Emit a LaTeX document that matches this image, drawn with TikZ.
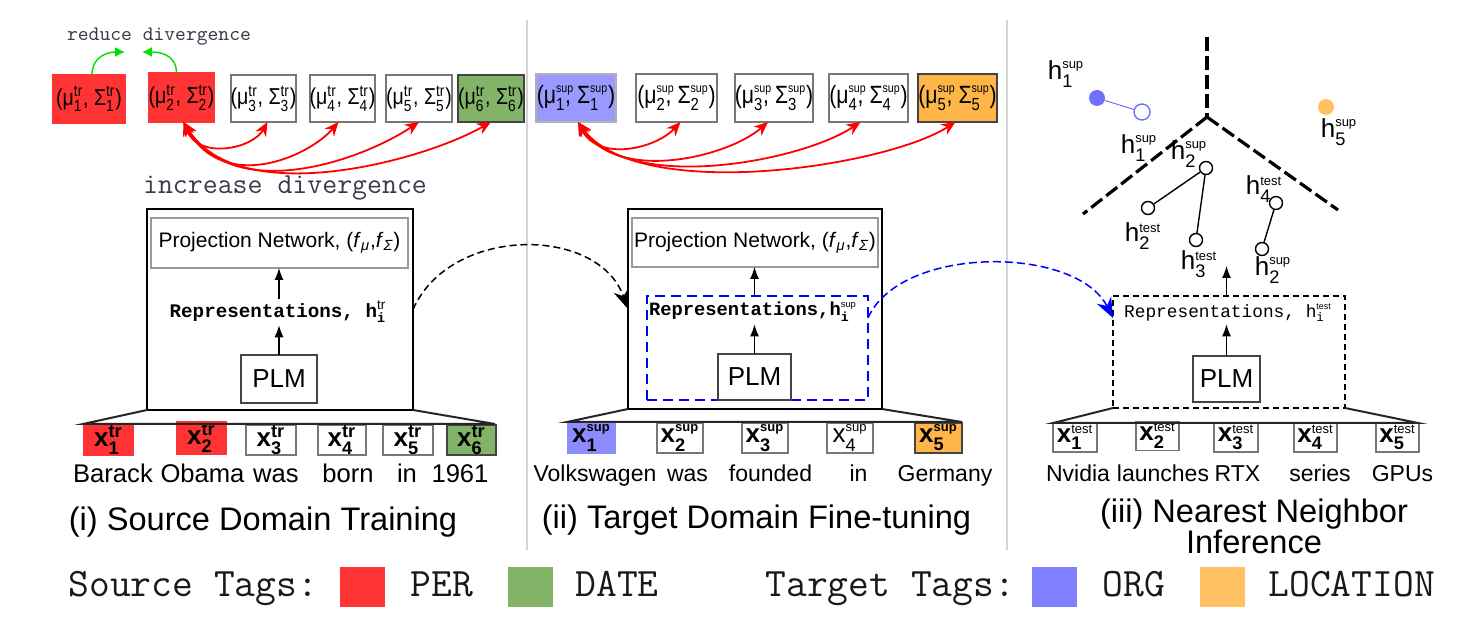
\documentclass[tikz,border=0pt]{standalone}
\usepackage{fontspec}
\usepackage{amsmath}
\usepackage{graphicx}
\setmainfont{Liberation Sans}
\setsansfont{Liberation Sans}
\newfontfamily\repfont{Liberation Mono}
\usetikzlibrary{arrows.meta}
\definecolor{cred}{HTML}{FF3333}
\definecolor{cgreen}{HTML}{82B366}
\definecolor{cblue}{HTML}{8C8CFF}
\definecolor{cbluetop}{HTML}{9999FF}
\definecolor{corange}{HTML}{FFB547}
\definecolor{clegor}{HTML}{FFC164}
\definecolor{clegbl}{HTML}{8080FF}
\definecolor{cgarr}{HTML}{00E000}
\definecolor{ctxt}{HTML}{3A3A4A}
\definecolor{cbord}{HTML}{777777}
\definecolor{csep}{HTML}{D4D4D4}
\definecolor{cdot}{HTML}{7070FF}
\definecolor{cdkb}{HTML}{444444}
\newcommand\sstr[2]{$^{\text{#1}}_{\text{#2}}$}
\newcommand\sssm[2]{$^{\scriptscriptstyle\text{#1}}_{\text{#2}}$}
\newcommand\ssrl[2]{$^{\rlap{$\scriptscriptstyle\text{#1}$}}_{\text{#2}}$}
\newcommand\fsz[1]{\fontsize{#1}{#1}\selectfont}
\begin{document}
\begin{tikzpicture}[x=0.5pt,y=-0.5pt,
  box/.style 2 args={minimum width={#1*0.5pt}, minimum height={#2*0.5pt}, inner sep=0pt, outer sep=0pt},
  topbox/.style={draw=cbord, line width=1pt, fill=white, font=\fsz{11.5}},
  midbox/.style={draw=cbord, line width=1pt, fill=white, font=\fsz{12.5}},
  tok/.style={draw=cbord, line width=0.75pt, fill=white, font=\fsz{13}},
  word/.style={anchor=base, font=\fsz{12.8}, inner sep=0pt},
  words/.style={anchor=base, font=\fsz{11.5}, inner sep=0pt},
  title/.style={anchor=base, font=\fsz{16.3}, inner sep=0pt},
  outer/.style={draw=black, line width=1pt},
  projbox/.style={draw=black!40, line width=1.3pt, font=\fsz{10.5}},
  plmbox/.style={draw=cdkb, line width=0.75pt, font=\fsz{13}},
  reps/.style={inner sep=1pt},
  blk/.style={-{Latex[length=6pt,width=4.5pt]}, line width=0.6pt},
  redarr/.style={draw=red, line width=0.9pt, {Stealth[length=7pt,width=6pt]}-{Stealth[length=7pt,width=6pt]}},
  garr/.style={draw=cgarr, line width=0.7pt, -{Latex[length=5pt,width=5pt]}},
  trap/.style={line width=1pt, draw=black!85},
  sepline/.style={draw=csep, line width=0.8pt},
  ptc/.style={circle, draw=black, line width=0.7pt, fill=white, minimum size=6.5pt, inner sep=0pt},
  hlab/.style={font=\fsz{13}, inner sep=0pt},
  branch/.style={line width=1.6pt, dash pattern=on 7pt off 2.5pt},
  legtxt/.style={anchor=base west, font=\ttfamily\fsz{20.2}, text=black!90, inner sep=0pt},
  legsq/.style={box={45}{40}}
]
\useasboundingbox (0,0) rectangle (1480,625);

% separators
\draw[sepline] (527,20) -- (527,550);
\draw[sepline] (1007,20) -- (1007,550);

% ---------- top-left boxes
\node[topbox, box={72}{48}, fill=cred, draw=cred] (b1) at (89,99) {\scalebox{0.85}[1]{(μ\sstr{tr}{1}, Σ\sstr{tr}{1})}};
\node[topbox, box={65}{49}, fill=cred, draw=cred] (b2) at (181.5,97.5) {\scalebox{0.85}[1]{(μ\sstr{tr}{2}, Σ\sstr{tr}{2})}};
\node[topbox, box={65}{47}] (b3) at (263.5,98.5) {\scalebox{0.85}[1]{(μ\sstr{tr}{3}, Σ\sstr{tr}{3})}};
\node[topbox, box={63}{47}] (b4) at (342.5,98.5) {\scalebox{0.85}[1]{(μ\sstr{tr}{4}, Σ\sstr{tr}{4})}};
\node[topbox, box={64}{47}] (b5) at (419,98.5) {\scalebox{0.85}[1]{(μ\sstr{tr}{5}, Σ\sstr{tr}{5})}};
\node[topbox, box={64}{47}, fill=cgreen, draw=cdkb] (b6) at (491,98.5) {\scalebox{0.85}[1]{(μ\sstr{tr}{6}, Σ\sstr{tr}{6})}};

\node[font=\ttfamily\fsz{10.3}, text=ctxt, inner sep=1pt] (reduce) at (159,37) {reduce divergence};
\coordinate (gl) at (125,52);
\coordinate (gr) at (142,52);
\draw[garr] ([xshift=1.5pt]b1.north) .. controls +(0,-20) and +(-15,0) .. (gl);
\draw[garr] ([xshift=-2.5pt]b2.north) .. controls +(0,-20) and +(15,0) .. (gr);

\node[font=\ttfamily\fsz{14.5}, text=ctxt, inner sep=1pt] (increase) at (285,188) {increase divergence};

\draw[redarr] ([xshift=1pt]b2.south) .. controls +(15,38) and +(-15,27) .. ([xshift=2pt]b3.south);
\draw[redarr] ([xshift=1pt]b2.south) .. controls +(40,72) and +(-30,35) .. ([xshift=-2pt]b4.south);
\draw[redarr] ([xshift=1pt]b2.south) .. controls +(50,82) and +(-60,40) .. (b5.south);
\draw[redarr] ([xshift=1pt]b2.south) .. controls +(55,88) and +(-70,40) .. (b6.south);

% ---------- top-middle boxes
\node[midbox, box={80}{48}, fill=cbluetop, draw=black!30] (m1) at (576,98) {\scalebox{0.85}[1]{(μ\ssrl{sup}{1}, Σ\sssm{sup}{1})}};
\node[midbox, box={81}{48}] (m2) at (676.5,98) {\scalebox{0.85}[1]{(μ\ssrl{sup}{2}, Σ\sssm{sup}{2})}};
\node[midbox, box={78}{48}] (m3) at (774,98) {\scalebox{0.85}[1]{(μ\ssrl{sup}{3}, Σ\sssm{sup}{3})}};
\node[midbox, box={77}{48}] (m4) at (868.5,98) {\scalebox{0.85}[1]{(μ\ssrl{sup}{4}, Σ\sssm{sup}{4})}};
\node[midbox, box={77}{48}, fill=corange, draw=cdkb] (m5) at (957.5,98) {\scalebox{0.85}[1]{(μ\ssrl{sup}{5}, Σ\sssm{sup}{5})}};

\draw[redarr] ([xshift=1pt]m1.south) .. controls +(20,40) and +(-25,27) .. ([xshift=2pt]m2.south);
\draw[redarr] ([xshift=1pt]m1.south) .. controls +(40,62) and +(-40,35) .. ([xshift=-3pt]m3.south);
\draw[redarr] ([xshift=1pt]m1.south) .. controls +(50,72) and +(-60,40) .. ([xshift=-4pt]m4.south);
\draw[redarr] ([xshift=1pt]m1.south) .. controls +(60,82) and +(-70,45) .. ([xshift=-1pt]m5.south);

% ---------- left panel
\node[outer, box={266}{201}] (outer1) at (280,309.5) {};
\node[projbox, box={257}{50}] (proj1) at (279.5,243) {Projection Network, (\textit{f}$_{\text{\itshape μ}}$,\textit{f}$_{\text{\itshape Σ}}$)};
\node[reps, font=\repfont\bfseries\fsz{9.6}] (reps1) at (278,312) {Representations, h$^{\text{\sffamily\mdseries tr}}_{\text{i}}$};
\node[plmbox, box={76}{48}] (plm1) at (279,379) {PLM};
\draw[blk] (plm1.north) -- (reps1.south -| plm1.north);
\draw[blk] (reps1.north -| plm1.north) -- (proj1.south -| plm1.north);

% tokens left
\node[tok, box={49}{30}, fill=cred, draw=cred] (t1) at (108.5,440) {\textbf{x\sstr{tr}{1}}};
\node[tok, box={49}{32}, fill=cred, draw=cred] (t2) at (201.5,438) {\textbf{x\sstr{tr}{2}}};
\node[tok, box={50}{30}] (t3) at (271,440) {\textbf{x\sstr{tr}{3}}};
\node[tok, box={48}{30}] (t4) at (342,440) {\textbf{x\sstr{tr}{4}}};
\node[tok, box={50}{30}] (t5) at (408,440) {\textbf{x\sstr{tr}{5}}};
\node[tok, box={49}{30}, fill=cgreen, draw=cdkb] (t6) at (471.5,440) {\textbf{x\sstr{tr}{6}}};
\coordinate (tl1) at (83,424);
\coordinate (tr1) at (495,424);
\draw[trap] (outer1.south west) -- (tl1) -- (tr1) -- (outer1.south east);

\node[word] (w1) at (113,483) {Barack};
\node[word] (w2) at (202.5,483) {Obama};
\node[word] (w3) at (276,483) {was};
\node[word] (w4) at (348,483) {born};
\node[word] (w5) at (407,483) {in};
\node[word] (w6) at (460,483) {1961};
\node[title] (ti1) at (263,531) {(i) Source Domain Training};

% ---------- middle panel
\node[outer, box={254}{200}] (outer2) at (755,309) {};
\node[projbox, box={246}{49}] (proj2) at (755,242.5) {Projection Network, (\textit{f}$_{\text{\itshape μ}}$,\textit{f}$_{\text{\itshape Σ}}$)};
\node[draw=blue, line width=1.2pt, dash pattern=on 5pt off 3pt, box={221}{104}] (bluebox) at (757.5,348) {};
\node[reps, font=\repfont\bfseries\fsz{9.4}] (reps2) at (753,312) {Representations,h$^{\scriptscriptstyle\text{\sffamily\mdseries sup}}_{\text{i}}$};
\node[plmbox, box={73}{46}] (plm2) at (754.5,377) {PLM};
\draw[blk] (plm2.north) -- (reps2.south -| plm2.north);
\draw[blk] (bluebox.north -| plm2.north) -- (proj2.south -| plm2.north);

\node[tok, box={47}{30}, fill=cblue, draw=cblue] (s1) at (591.5,438) {\textbf{x\sssm{sup}{1}}};
\node[tok, box={46}{30}] (s2) at (680,438) {\textbf{x\sssm{sup}{2}}};
\node[tok, box={46}{30}] (s3) at (765,438) {\textbf{x\sssm{sup}{3}}};
\node[tok, box={46}{30}] (s4) at (850,438) {x\sssm{sup}{4}};
\node[tok, box={47}{30}, fill=corange, draw=cdkb] (s5) at (938.5,438) {\textbf{x\sssm{sup}{5}}};
\coordinate (tl2) at (567,422);
\coordinate (tr2) at (962,422);
\draw[trap] (outer2.south west) -- (tl2) -- (tr2) -- (outer2.south east);

\node[words] (v1) at (595,482) {Volkswagen};
\node[words] (v2) at (687.5,482) {was};
\node[words] (v3) at (770.5,482) {founded};
\node[words] (v4) at (858.5,482) {in};
\node[words] (v5) at (945,482) {Germany};
\node[title] (ti2) at (756.5,529) {(ii) Target Domain Fine-tuning};

% ---------- right panel
\node[draw=black, line width=0.75pt, dash pattern=on 3pt off 2pt, box={232}{112}] (dash3) at (1229,352) {};
\node[reps, font=\repfont\fsz{8.9}] (reps3) at (1228,313) {Representations, h$^{\scriptscriptstyle\text{\sffamily test}}_{\text{i}}$};
\node[plmbox, box={67}{46}] (plm3) at (1226.5,379) {PLM};
\draw[blk] (plm3.north) -- (reps3.south -| plm3.north);
\coordinate (emb) at (1226.5,266);
\draw[blk] (dash3.north -| plm3.north) -- (emb);

\node[tok, box={44}{29}] (r1) at (1075,437.5) {\textbf{x\sssm{\mdseries test}{1}}};
\node[tok, box={43}{29}] (r2) at (1157.5,436) {\textbf{x\sssm{\mdseries test}{2}}};
\node[tok, box={44}{29}] (r3) at (1236,437.5) {\textbf{x\sssm{\mdseries test}{3}}};
\node[tok, box={43}{29}] (r4) at (1315.5,437.5) {\textbf{x\sssm{\mdseries test}{4}}};
\node[tok, box={43}{29}] (r5) at (1397.5,437.5) {\textbf{x\sssm{\mdseries test}{5}}};
\coordinate (tl3) at (1053,423);
\coordinate (tr3) at (1418,423);
\draw[trap] (dash3.south west) -- (tl3) -- (tr3) -- (dash3.south east);

\node[words] (n1) at (1078,482) {Nvidia};
\node[words] (n2) at (1163,482) {launches};
\node[words] (n3) at (1237.5,482) {RTX};
\node[words] (n4) at (1320,482) {series};
\node[words] (n5) at (1402.5,482) {GPUs};
\node[title] (ti3a) at (1254,523) {(iii) Nearest Neighbor};
\node[title] (ti3b) at (1254,554) {Inference};

% embedding space
\coordinate (apex) at (1207,117);
\coordinate (vtop) at (1207,37);
\coordinate (bl) at (1083,214);
\coordinate (br) at (1338,210);
\draw[branch] (vtop) -- (apex);
\draw[branch] (apex) -- (bl);
\draw[branch] (apex) -- (br);

\node[circle, fill=cdot, minimum size=8pt, inner sep=0pt] (bd) at (1097,98) {};
\node[circle, draw=cdot, fill=white, line width=0.7pt, minimum size=8pt, inner sep=0pt] (bc) at (1142,112) {};
\draw[cdot, line width=0.5pt] (bd) -- (bc);
\node[circle, fill=clegor, minimum size=8pt, inner sep=0pt] (od) at (1326,107) {};

\node[ptc] (hs2) at (1206,168) {};
\node[ptc] (ht2) at (1148,208) {};
\node[ptc] (ht3) at (1196,240) {};
\node[ptc] (ht4) at (1276,203) {};
\node[ptc] (hs2b) at (1262,249) {};
\draw[line width=0.7pt] (hs2) -- (ht2);
\draw[line width=0.7pt] (hs2) -- (ht3);
\draw[line width=0.7pt] (ht4) -- (hs2b);

\node[hlab] (lh1a) at (1066,74) {h\sssm{sup}{1}};
\node[hlab] (lh1b) at (1139,148) {h\sssm{sup}{1}};
\node[hlab] (lh2a) at (1189,154) {h\sssm{sup}{2}};
\node[hlab] (lh2t) at (1143,236) {h\sssm{test}{2}};
\node[hlab] (lh3t) at (1199,264) {h\sssm{test}{3}};
\node[hlab] (lh4t) at (1264,189) {h\sssm{test}{4}};
\node[hlab] (lh2b) at (1273,270) {h\sssm{sup}{2}};
\node[hlab] (lh5) at (1339,132) {h\sssm{sup}{5}};

% ---------- connectors between panels
\draw[line width=0.75pt, dash pattern=on 3.5pt off 2pt, -{Stealth[length=10pt,width=8pt]}]
  (outer1.east) .. controls +(37,-84) and +(-30,-84) .. (outer2.west);
\draw[blue, line width=0.75pt, dash pattern=on 4pt off 2pt, -{Stealth[length=10pt,width=8pt]}]
  ([yshift=15pt]bluebox.east) .. controls +(32,-73) and +(-37,-73) .. ([yshift=17pt]dash3.west);

% ---------- legend
\node[legtxt] (lsrc) at (68,597) {Source Tags:};
\node[legsq, fill=cred] (sqper) at (362.5,587) {};
\node[legtxt] (lper) at (410,597) {PER};
\node[legsq, fill=cgreen] (sqdate) at (530.5,587) {};
\node[legtxt] (ldate) at (575,597) {DATE};
\node[legtxt] (ltgt) at (765,597) {Target Tags:};
\node[legsq, fill=clegbl] (sqorg) at (1054.5,587) {};
\node[legtxt] (lorg) at (1102,597) {ORG};
\node[legsq, fill=clegor] (sqloc) at (1222.5,587) {};
\node[legtxt] (lloc) at (1268,597) {LOCATION};
\end{tikzpicture}
\end{document}
